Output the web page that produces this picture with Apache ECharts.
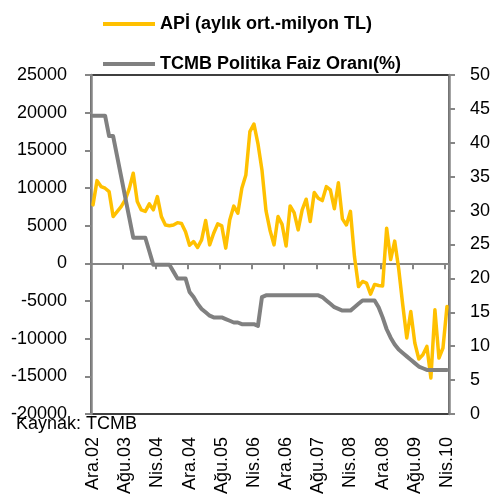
<!DOCTYPE html>
<html>
<head>
<meta charset="utf-8">
<script src="https://cdn.jsdelivr.net/npm/echarts@6/dist/echarts.min.js"></script>
<style>
    html, body { margin: 0; padding: 0; background: #fff; }
    #main { width: 502px; height: 498px; }
</style>
</head>
<body>
<div id="main"></div>
<script>
// aylar: Ara.02 - Nis.10
var months = [
    'Ara.02',
    'Oca.03', 'Şub.03', 'Mar.03', 'Nis.03', 'May.03', 'Haz.03', 'Tem.03', 'Ağu.03', 'Eyl.03', 'Eki.03', 'Kas.03', 'Ara.03',
    'Oca.04', 'Şub.04', 'Mar.04', 'Nis.04', 'May.04', 'Haz.04', 'Tem.04', 'Ağu.04', 'Eyl.04', 'Eki.04', 'Kas.04', 'Ara.04',
    'Oca.05', 'Şub.05', 'Mar.05', 'Nis.05', 'May.05', 'Haz.05', 'Tem.05', 'Ağu.05', 'Eyl.05', 'Eki.05', 'Kas.05', 'Ara.05',
    'Oca.06', 'Şub.06', 'Mar.06', 'Nis.06', 'May.06', 'Haz.06', 'Tem.06', 'Ağu.06', 'Eyl.06', 'Eki.06', 'Kas.06', 'Ara.06',
    'Oca.07', 'Şub.07', 'Mar.07', 'Nis.07', 'May.07', 'Haz.07', 'Tem.07', 'Ağu.07', 'Eyl.07', 'Eki.07', 'Kas.07', 'Ara.07',
    'Oca.08', 'Şub.08', 'Mar.08', 'Nis.08', 'May.08', 'Haz.08', 'Tem.08', 'Ağu.08', 'Eyl.08', 'Eki.08', 'Kas.08', 'Ara.08',
    'Oca.09', 'Şub.09', 'Mar.09', 'Nis.09', 'May.09', 'Haz.09', 'Tem.09', 'Ağu.09', 'Eyl.09', 'Eki.09', 'Kas.09', 'Ara.09',
    'Oca.10', 'Şub.10', 'Mar.10', 'Nis.10'
];

// APİ (aylık ort. - milyon TL)
var api = [
    7760,
    10980, 10190, 9970, 9520, 6210, 6870, 7530, 8420, 9880, 11960, 8200, 7090,
    6900, 7890, 7100, 8860, 6200, 5100, 5000, 5100, 5400, 5300, 4200, 2400,
    2890, 2100, 3120, 5680, 2450, 4000, 5240, 4970, 2020, 5770, 7600, 6660,
    9970, 11740, 17480, 18500, 15900, 12400, 7000, 4400, 2450, 6210, 5170, 2300,
    7620, 6740, 4440, 7090, 8510, 5540, 9390, 8640, 8330, 10180, 9750, 7250,
    10710, 5900, 5100, 6900, 900, -3080, -2410, -2630, -4090, -2800, -2950, -3000,
    4670, 500, 2950, -750, -5500, -9900, -6390, -10580, -12700, -12130, -11030, -15220,
    -6170, -12570, -11240, -5730
];

// TCMB politika faiz oranı (%)
var faiz = [
    44,
    44, 44, 44, 41, 41, 38, 35, 32, 29, 26, 26, 26,
    26, 24, 22, 22, 22, 22, 22, 21, 20, 20, 20, 18,
    17.25, 16.25, 15.5, 15, 14.5, 14.25, 14.25, 14.25, 14, 13.75, 13.5, 13.5,
    13.25, 13.25, 13.25, 13.25, 13, 17.25, 17.5, 17.5, 17.5, 17.5, 17.5, 17.5,
    17.5, 17.5, 17.5, 17.5, 17.5, 17.5, 17.5, 17.5, 17.25, 16.75, 16.25, 15.75,
    15.5, 15.25, 15.25, 15.25, 15.75, 16.25, 16.75, 16.75, 16.75, 16.75, 15.75, 14.25,
    12.5, 11.25, 10.25, 9.5, 9, 8.5, 8, 7.5, 7, 6.75, 6.5, 6.5,
    6.5, 6.5, 6.5, 6.5
];

var seriesNames = ['APİ (aylık ort.-milyon TL)', 'TCMB Politika Faiz Oranı(%)'];
var seriesColors = ['#FFC000', '#808080'];

var fontName = 'Liberation Sans';
var axisGray = '#868686';

function legendAt(i, top) {
    return {
        data: [{ name: seriesNames[i], icon: 'rect', itemStyle: { color: seriesColors[i] } }],
        left: 103,
        top: top,
        padding: 0,
        itemWidth: 52,
        itemHeight: 4,
        textStyle: { fontSize: 18, fontWeight: 'bold', color: '#000', fontFamily: fontName }
    };
}

var chart = echarts.init(document.getElementById('main'));

var option = {
    animation: false,
    textStyle: { fontFamily: fontName },
    legend: [legendAt(0, 15), legendAt(1, 55)],
    grid: {
        left: 91,
        right: 53,
        top: 75,
        bottom: 84,
        show: true,
        borderColor: '#000',
        borderWidth: 1.5
    },
    graphic: [
        {
            type: 'text',
            left: 16,
            top: 415,
            style: { text: 'Kaynak: TCMB', font: '18px "Liberation Sans"', fill: '#000' }
        }
    ],
    xAxis: [
        {
            // etiketler alt kenarda
            type: 'category',
            data: months,
            position: 'bottom',
            axisLine: { show: false, onZero: false },
            axisTick: { show: false },
            axisLabel: {
                interval: 7,
                rotate: 90,
                margin: 23,
                fontSize: 18,
                color: '#000'
            },
            splitLine: { show: false }
        },
        {
            // sıfır çizgisi
            type: 'category',
            data: months,
            position: 'bottom',
            axisLine: {
                show: true,
                onZero: true,
                onZeroAxisIndex: 0,
                lineStyle: { color: axisGray, width: 2 }
            },
            axisTick: {
                show: true,
                interval: 7,
                length: 6,
                lineStyle: { color: axisGray, width: 2 }
            },
            axisLabel: { show: false },
            splitLine: { show: false }
        }
    ],
    yAxis: [
        {
            type: 'value',
            min: -20000,
            max: 25000,
            interval: 5000,
            axisLine: { show: true, lineStyle: { color: axisGray, width: 2.5 } },
            axisTick: { show: true, length: 6, lineStyle: { color: axisGray, width: 2 } },
            axisLabel: {
                fontSize: 18,
                color: '#000',
                margin: 24,
                formatter: function (v) { return String(v); }
            },
            splitLine: { show: false }
        },
        {
            type: 'value',
            position: 'right',
            min: 0,
            max: 50,
            interval: 5,
            alignTicks: false,
            axisLine: { show: true, lineStyle: { color: axisGray, width: 2.5 } },
            axisTick: { show: true, length: 6, lineStyle: { color: axisGray, width: 2 } },
            axisLabel: { fontSize: 18, color: '#000', margin: 21 },
            splitLine: { show: false }
        }
    ],
    series: [
        {
            name: seriesNames[0],
            type: 'line',
            data: api,
            xAxisIndex: 0,
            yAxisIndex: 0,
            symbol: 'none',
            color: seriesColors[0],
            lineStyle: { color: seriesColors[0], width: 3.5, join: 'round', cap: 'round' }
        },
        {
            name: seriesNames[1],
            type: 'line',
            data: faiz,
            xAxisIndex: 0,
            yAxisIndex: 1,
            symbol: 'none',
            color: seriesColors[1],
            lineStyle: { color: seriesColors[1], width: 4, join: 'round', cap: 'round' }
        }
    ]
};

chart.setOption(option);
</script>
</body>
</html>
